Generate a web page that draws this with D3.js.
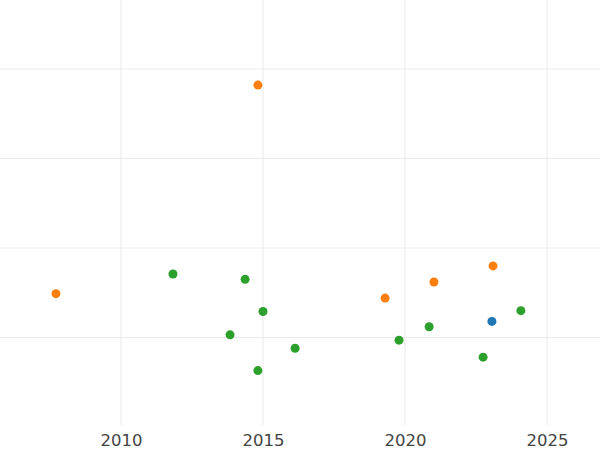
<!DOCTYPE html>
<html><head><meta charset="utf-8">
<script src="https://cdn.jsdelivr.net/npm/d3@7"></script>
<style>body{margin:0;background:#fff}</style>
</head><body>
<div class="container"></div>
<script>
const w = 600, h = 450

const xTicks = [2010, 2015, 2020, 2025]
const yGrid = [0, 1, 2, 3]

const orangeX = [2014.82, 2007.71, 2019.30, 2021.02, 2023.10]
const orangeY = [2.82, 0.49, 0.44, 0.62, 0.80]
const greenX = [2011.83, 2014.37, 2015.0, 2013.84, 2016.13, 2014.82, 2019.79, 2020.85, 2022.75, 2024.08]
const greenY = [0.71, 0.65, 0.29, 0.03, -0.12, -0.37, -0.03, 0.12, -0.22, 0.30]
const blueX = [2023.06]
const blueY = [0.18]

const xScale = d3.scaleLinear().domain([2010, 2015]).range([121, 263])
const yScale = d3.scaleLinear().domain([0, 1]).range([337.5, 248])

const svg = d3.select(".container").append("svg")
    .attr("width", w).attr("height", h)

// grid
svg.selectAll(".vg").data(xTicks).enter().append("line")
    .attr("x1", d => xScale(d)).attr("x2", d => xScale(d))
    .attr("y1", 0).attr("y2", 425)
    .attr("stroke", "#ebebeb").attr("stroke-width", 1)
svg.selectAll(".hg").data(yGrid).enter().append("line")
    .attr("x1", 0).attr("x2", w)
    .attr("y1", d => yScale(d)).attr("y2", d => yScale(d))
    .attr("stroke", "#ebebeb").attr("stroke-width", 1)

const xAxis = d3.axisBottom(xScale).tickValues(xTicks).tickFormat(d3.format("d")).tickSize(0).tickPadding(9)
svg.append("g").attr("transform", "translate(0,425)").call(xAxis)
    .call(g => g.select(".domain").remove())
    .selectAll("text").attr("font-family", "DejaVu Sans").attr("font-size", 16.5).attr("fill", "#444")

const series = [
    {x: orangeX, y: orangeY, c: "#ff7f0e"},
    {x: greenX, y: greenY, c: "#2ca02c"},
    {x: blueX, y: blueY, c: "#1f77b4"}
]
series.forEach(s => {
    svg.append("g").selectAll("circle").data(s.x).enter().append("circle")
        .attr("cx", d => xScale(d))
        .attr("cy", (d, i) => yScale(s.y[i]))
        .attr("r", 4.5)
        .attr("fill", s.c)
})
</script>
</body></html>
